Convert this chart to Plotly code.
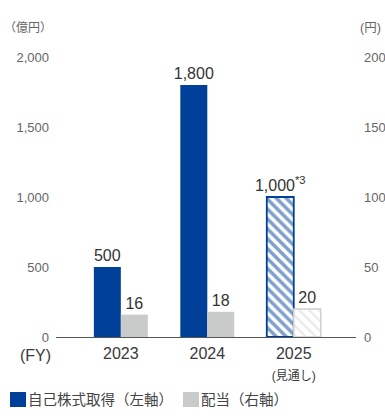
import plotly.graph_objects as go

# ---- data ----
years = ["2023", "2024", "2025"]
year_ticktext = ["2023", "2024", "2025<br><span style='font-size:12px'>(見通し)</span>"]
buyback = [500, 1800, 1000]          # 億円, left axis
buyback_text = ["500", "1,800", "1,000<sup>*3</sup>"]
dividend = [16, 18, 20]              # 円, right axis
dividend_text = ["16", "18", "20"]
forecast = [False, False, True]
left_ticks = [0, 500, 1000, 1500, 2000]
right_ticks = [0, 50, 100, 150, 200]
legend_labels = ["自己株式取得（左軸）", "配当（右軸）"]

BLUE = "#004098"
GRAY = "#c9caca"
HATCH_GRAY = "#d0d0d0"
FONT = "Liberation Sans, Arial, Noto Sans CJK JP"

xpos = list(range(len(years)))
W = 0.312

act = [i for i, f in enumerate(forecast) if not f]
fc = [i for i, f in enumerate(forecast) if f]

fig = go.Figure()
common = dict(textposition="outside", constraintext="none", cliponaxis=False,
              width=W, showlegend=False,
              textfont=dict(size=16, color="#333", family=FONT))
# actual buyback
fig.add_trace(go.Bar(
    x=[xpos[i] for i in act], y=[buyback[i] for i in act],
    text=[buyback_text[i] for i in act], offset=-W,
    marker=dict(color=BLUE, line=dict(width=0)), yaxis="y", **common))
# forecast buyback (hatched)
fig.add_trace(go.Bar(
    x=[xpos[i] for i in fc], y=[buyback[i] for i in fc],
    text=[buyback_text[i] for i in fc], offset=-W,
    marker=dict(color="white", line=dict(width=1.8, color=BLUE),
                pattern=dict(shape="\\", fgcolor=BLUE, bgcolor="white", size=7, solidity=0.5)),
    yaxis="y", **common))
# actual dividend
fig.add_trace(go.Bar(
    x=[xpos[i] for i in act], y=[dividend[i] for i in act],
    text=[dividend_text[i] for i in act], offset=0,
    marker=dict(color=GRAY, line=dict(width=0)), yaxis="y2", **common))
# forecast dividend (hatched)
fig.add_trace(go.Bar(
    x=[xpos[i] for i in fc], y=[dividend[i] for i in fc],
    text=[dividend_text[i] for i in fc], offset=0,
    marker=dict(color="white", line=dict(width=1.5, color=HATCH_GRAY),
                pattern=dict(shape="\\", fgcolor=HATCH_GRAY, bgcolor="white", size=7, solidity=0.28)),
    yaxis="y2", **common))

fig.update_layout(
    width=385, height=419,
    margin=dict(l=56, r=29, t=57, b=82),
    paper_bgcolor="white", plot_bgcolor="white",
    font=dict(family=FONT, color="#666"),
    barmode="overlay",
    xaxis=dict(range=[-0.75, 2.72], tickvals=xpos, ticktext=year_ticktext,
               showline=True, linecolor="#555", linewidth=1, showgrid=False,
               zeroline=False, ticks="", tickfont=dict(size=16, color="#3a3a3a"),
               ticklabelstandoff=2, automargin=False),
    yaxis=dict(range=[0, 2000], tickvals=left_ticks, tickformat=",", showgrid=False,
               zeroline=False, ticks="", tickfont=dict(size=13, color="#666"),
               ticklabelstandoff=6, automargin=False),
    yaxis2=dict(range=[0, 200], tickvals=right_ticks, overlaying="y", side="right",
                showgrid=False, zeroline=False, ticks="",
                tickfont=dict(size=13, color="#666"), ticklabelstandoff=7,
                automargin=False),
)

ann = [
    dict(text="（億円）", x=(28 - 56) / 300, y=(337 - 28) / 280, size=12),
    dict(text="(円)", x=(370 - 56) / 300, y=(337 - 28) / 280, size=12.5),
]
for a in ann:
    fig.add_annotation(xref="paper", yref="paper", showarrow=False,
                       xanchor="center", yanchor="middle", text=a["text"],
                       x=a["x"], y=a["y"],
                       font=dict(size=a["size"], color="#666", family=FONT))
fig.add_annotation(text="(FY)", xref="paper", yref="paper", x=(35 - 56) / 300,
                   y=(337 - 355) / 280, showarrow=False, xanchor="center", yanchor="middle",
                   font=dict(size=16, color="#3a3a3a", family=FONT))

# manual legend
for (x0, x1, col), lab, tx in [((10, 26, BLUE), legend_labels[0], 26),
                               ((183, 199, GRAY), legend_labels[1], 199)]:
    fig.add_shape(type="rect", xref="paper", yref="paper",
                  x0=(x0 - 56) / 300, x1=(x1 - 56) / 300,
                  y0=(337 - 392) / 280, y1=(337 - 407) / 280,
                  fillcolor=col, line=dict(width=0))
    fig.add_annotation(text=lab, xref="paper", yref="paper", x=(tx - 56) / 300,
                       y=(337 - 399.5) / 280, showarrow=False, xanchor="left",
                       yanchor="middle", font=dict(size=14.5, color="#444", family=FONT))

fig.write_html("out.html")
